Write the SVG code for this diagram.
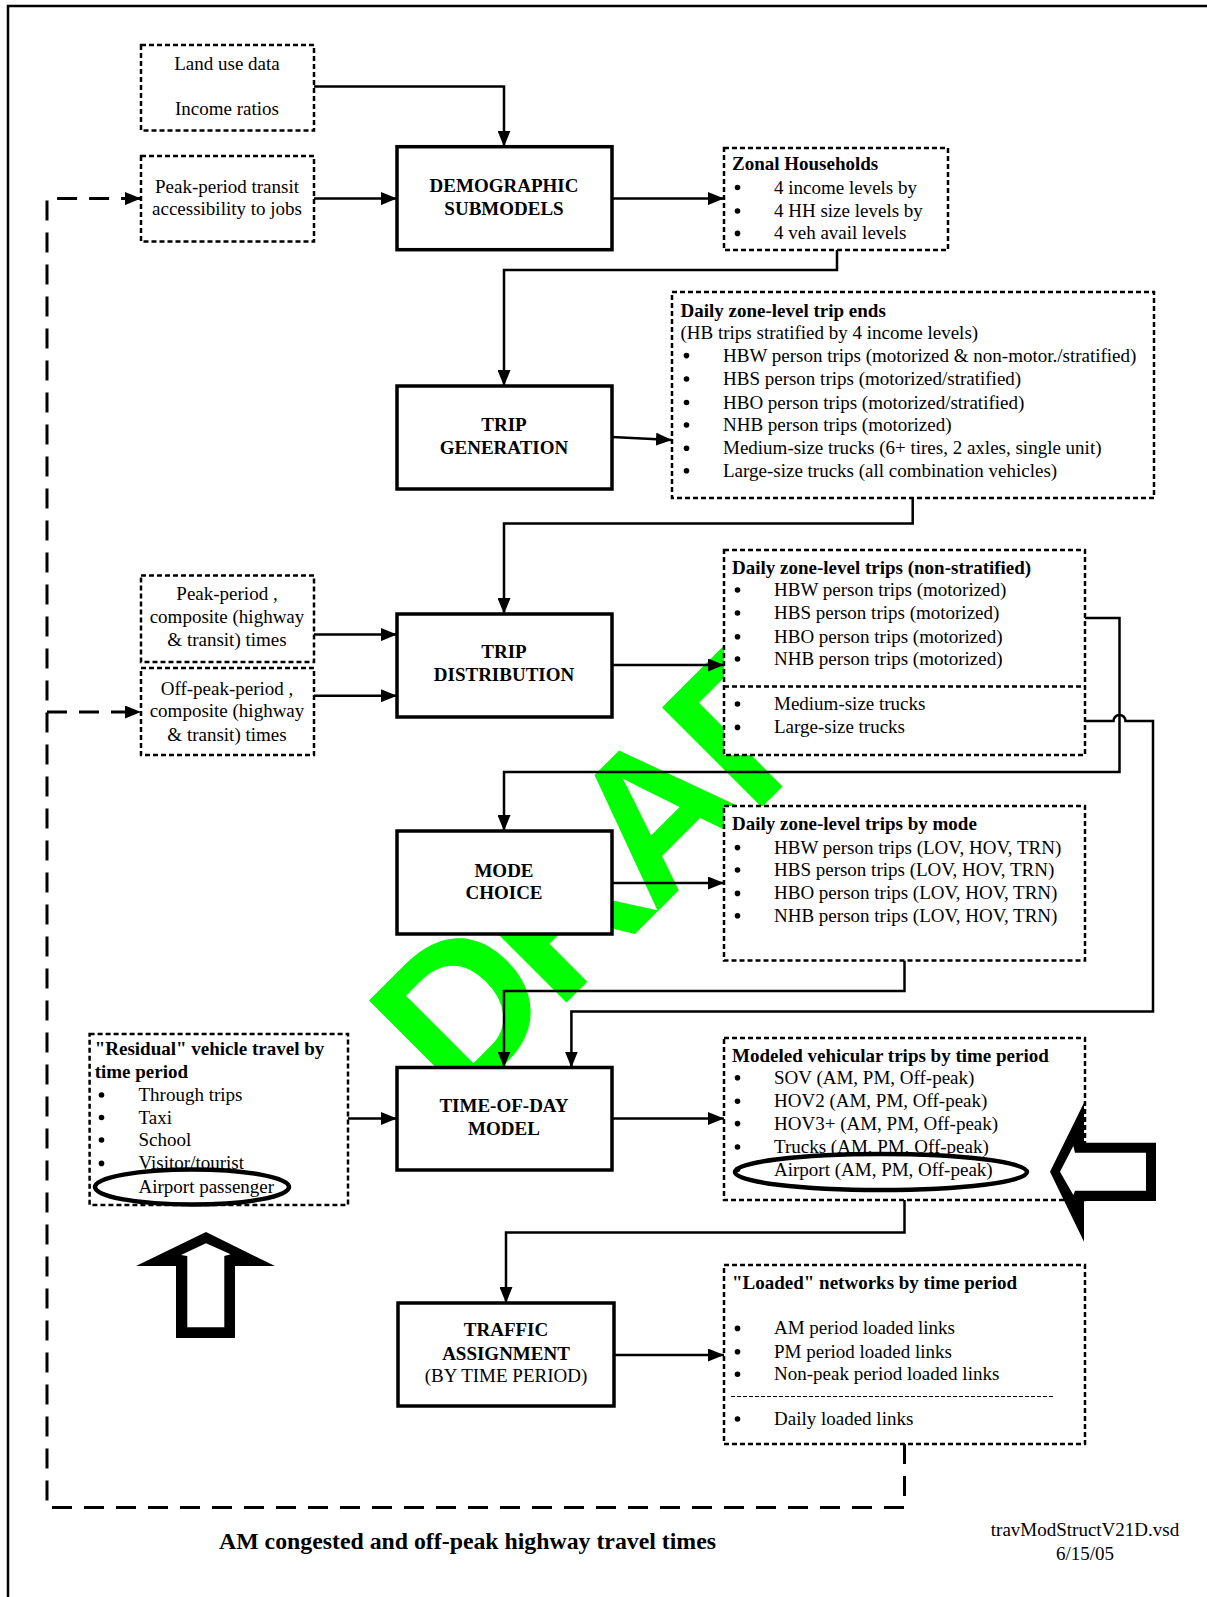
<svg xmlns="http://www.w3.org/2000/svg" width="1207" height="1597" viewBox="0 0 1207 1597">
<defs>
<style>
.proc{fill:#fff;stroke:#000;stroke-width:3.5}
.dot{fill:#fff;stroke:#000;stroke-width:2.5;stroke-dasharray:5 3}
.ln{fill:none;stroke:#000;stroke-width:2.5}
.fb{fill:none;stroke:#000;stroke-width:3;stroke-dasharray:20 12}
.t{font-family:"Liberation Serif","Times New Roman",serif;font-size:19px;fill:#000}
.bl{fill:#000}
.b{font-weight:bold}
.c{text-anchor:middle}
.ell{fill:none;stroke:#000;stroke-width:4.5}
.wm{font-family:"Liberation Sans",Arial,sans-serif;font-weight:bold;font-size:205px;letter-spacing:-10px;fill:#00ff00}
</style>
<marker id="ah" markerUnits="userSpaceOnUse" markerWidth="17" markerHeight="13" refX="16" refY="6.5" orient="auto">
<path d="M0,0 L16,6.5 L0,13 z" fill="#000"/>
</marker>
</defs>
<rect width="1207" height="1597" fill="#fff"/>
<path d="M8,1597 V6 H1207" fill="none" stroke="#000" stroke-width="2.5"/>

<g id="watermark">
<text class="wm" text-anchor="middle" transform="translate(687,882) rotate(-45)">DRAFT</text>
</g>

<g id="connectors">
<path class="ln" d="M314,86.6 H504 V146.7" marker-end="url(#ah)"/>
<path class="ln" d="M314,198.6 H397" marker-end="url(#ah)"/>
<path class="ln" d="M612,198.6 H724" marker-end="url(#ah)"/>
<path class="ln" d="M837,250 V270 H504 V386" marker-end="url(#ah)"/>
<path class="ln" d="M612,437 L672,440" marker-end="url(#ah)"/>
<path class="ln" d="M912.7,498 V523.6 H504 V614" marker-end="url(#ah)"/>
<path class="ln" d="M314,634.6 H397" marker-end="url(#ah)"/>
<path class="ln" d="M314,695.7 H397" marker-end="url(#ah)"/>
<path class="ln" d="M612,665 H724" marker-end="url(#ah)"/>
<path class="ln" d="M1085,618 H1119.5 V772 H504 V831" marker-end="url(#ah)"/>
<path class="ln" d="M1085,721 H1113.5 A6,6 0 0 1 1125.5,721 H1153 V1011.5 H571.4 V1067.5" marker-end="url(#ah)"/>
<path class="ln" d="M612,883 H724" marker-end="url(#ah)"/>
<path class="ln" d="M904.5,960.5 V991 H504 V1067.5" marker-end="url(#ah)"/>
<path class="ln" d="M348,1118.5 H397" marker-end="url(#ah)"/>
<path class="ln" d="M612,1118.5 H724" marker-end="url(#ah)"/>
<path class="ln" d="M904.5,1200 V1232.5 H506 V1303" marker-end="url(#ah)"/>
<path class="ln" d="M614,1355 H724" marker-end="url(#ah)"/>
<path class="fb" d="M904.5,1444 V1507.5 H47 V198.6 H141" marker-end="url(#ah)"/>
<path class="fb" d="M47,712 H141" marker-end="url(#ah)"/>
</g>

<g id="landuse">
<rect class="dot" x="141" y="45" width="173" height="85.5"/>
<text class="t c" x="227" y="70">Land use data</text>
<text class="t c" x="227" y="115">Income ratios</text>
</g>

<g id="peaktransit">
<rect class="dot" x="141" y="156" width="173" height="85.5"/>
<text class="t c" x="227" y="192.5">Peak-period transit</text>
<text class="t c" x="227" y="215">accessibility to jobs</text>
</g>

<g id="demographic">
<rect class="proc" x="397" y="146.7" width="215" height="103"/>
<text class="t b c" x="504" y="191.5">DEMOGRAPHIC</text>
<text class="t b c" x="504" y="215">SUBMODELS</text>
</g>

<g id="zonal">
<rect class="dot" x="724" y="148" width="224" height="102"/>
<text class="t b" x="732" y="170">Zonal Households</text>
<circle class="bl" cx="737.5" cy="187.5" r="2.8"/><text class="t" x="774" y="193.5">4 income levels by</text>
<circle class="bl" cx="737.5" cy="211" r="2.8"/><text class="t" x="774" y="217">4 HH size levels by</text>
<circle class="bl" cx="737.5" cy="233.4" r="2.8"/><text class="t" x="774" y="239.4">4 veh avail levels</text>
</g>

<g id="tripgen">
<rect class="proc" x="397" y="386" width="215" height="103"/>
<text class="t b c" x="504" y="431">TRIP</text>
<text class="t b c" x="504" y="454.3">GENERATION</text>
</g>

<g id="tripends">
<rect class="dot" x="672" y="292" width="482" height="206"/>
<text class="t b" x="680.5" y="317">Daily zone-level trip ends</text>
<text class="t" x="680.5" y="339">(HB trips stratified by 4 income levels)</text>
<circle class="bl" cx="686.5" cy="355.6" r="2.8"/><text class="t" x="723" y="361.6">HBW person trips (motorized &amp; non-motor./stratified)</text>
<circle class="bl" cx="686.5" cy="379" r="2.8"/><text class="t" x="723" y="385">HBS person trips (motorized/stratified)</text>
<circle class="bl" cx="686.5" cy="402.5" r="2.8"/><text class="t" x="723" y="408.5">HBO person trips (motorized/stratified)</text>
<circle class="bl" cx="686.5" cy="425" r="2.8"/><text class="t" x="723" y="431">NHB person trips (motorized)</text>
<circle class="bl" cx="686.5" cy="448.3" r="2.8"/><text class="t" x="723" y="454.3">Medium-size trucks (6+ tires, 2 axles, single unit)</text>
<circle class="bl" cx="686.5" cy="470.7" r="2.8"/><text class="t" x="723" y="476.7">Large-size trucks (all combination vehicles)</text>
</g>

<g id="peakcomp">
<rect class="dot" x="141" y="575.5" width="173" height="86.5"/>
<text class="t c" x="227" y="600">Peak-period ,</text>
<text class="t c" x="227" y="623.4">composite (highway</text>
<text class="t c" x="227" y="645.8">&amp; transit) times</text>
</g>

<g id="offpeak">
<rect class="dot" x="141" y="668" width="173" height="87"/>
<text class="t c" x="227" y="694.7">Off-peak-period ,</text>
<text class="t c" x="227" y="717">composite (highway</text>
<text class="t c" x="227" y="740.5">&amp; transit) times</text>
</g>

<g id="tripdist">
<rect class="proc" x="397" y="614" width="215" height="103"/>
<text class="t b c" x="504" y="658">TRIP</text>
<text class="t b c" x="504" y="681.4">DISTRIBUTION</text>
</g>

<g id="dailytrips">
<rect class="dot" x="724" y="550" width="361" height="205"/>
<line class="dot" x1="724" y1="686.5" x2="1085" y2="686.5"/>
<text class="t b" x="732" y="573.5">Daily zone-level trips (non-stratified)</text>
<circle class="bl" cx="737.5" cy="590" r="2.8"/><text class="t" x="774" y="596">HBW person trips (motorized)</text>
<circle class="bl" cx="737.5" cy="613" r="2.8"/><text class="t" x="774" y="619">HBS person trips (motorized)</text>
<circle class="bl" cx="737.5" cy="636.7" r="2.8"/><text class="t" x="774" y="642.7">HBO person trips (motorized)</text>
<circle class="bl" cx="737.5" cy="659" r="2.8"/><text class="t" x="774" y="665">NHB person trips (motorized)</text>
<circle class="bl" cx="737.5" cy="704" r="2.8"/><text class="t" x="774" y="710">Medium-size trucks</text>
<circle class="bl" cx="737.5" cy="727.4" r="2.8"/><text class="t" x="774" y="733.4">Large-size trucks</text>
</g>

<g id="modechoice">
<rect class="proc" x="397" y="831" width="215" height="103"/>
<text class="t b c" x="504" y="877">MODE</text>
<text class="t b c" x="504" y="899.4">CHOICE</text>
</g>

<g id="bymode">
<rect class="dot" x="724" y="806" width="361" height="154.5"/>
<text class="t b" x="732" y="830">Daily zone-level trips by mode</text>
<circle class="bl" cx="737.5" cy="847.6" r="2.8"/><text class="t" x="774" y="853.6">HBW person trips (LOV, HOV, TRN)</text>
<circle class="bl" cx="737.5" cy="870" r="2.8"/><text class="t" x="774" y="876">HBS person trips (LOV, HOV, TRN)</text>
<circle class="bl" cx="737.5" cy="893.4" r="2.8"/><text class="t" x="774" y="899.4">HBO person trips (LOV, HOV, TRN)</text>
<circle class="bl" cx="737.5" cy="915.8" r="2.8"/><text class="t" x="774" y="921.8">NHB person trips (LOV, HOV, TRN)</text>
</g>

<g id="residual">
<rect class="dot" x="89.6" y="1034" width="258.4" height="171"/>
<text class="t b" x="94.7" y="1055.3">"Residual" vehicle travel by</text>
<text class="t b" x="94.7" y="1077.7">time period</text>
<circle class="bl" cx="101.5" cy="1095" r="2.8"/><text class="t" x="138.5" y="1101">Through trips</text>
<circle class="bl" cx="101.5" cy="1117.5" r="2.8"/><text class="t" x="138.5" y="1123.5">Taxi</text>
<circle class="bl" cx="101.5" cy="1140" r="2.8"/><text class="t" x="138.5" y="1146">School</text>
<circle class="bl" cx="101.5" cy="1163.4" r="2.8"/><text class="t" x="138.5" y="1169.4">Visitor/tourist</text>
<text class="t" x="138.5" y="1192.8">Airport passenger</text>
<ellipse class="ell" cx="192" cy="1187" rx="97" ry="17.5"/>
</g>

<g id="timeofday">
<rect class="proc" x="397" y="1067.5" width="215" height="102.5"/>
<text class="t b c" x="504" y="1112.3">TIME-OF-DAY</text>
<text class="t b c" x="504" y="1134.7">MODEL</text>
</g>

<g id="modeled">
<rect class="dot" x="724" y="1038" width="361" height="162"/>
<text class="t b" x="732" y="1062.4">Modeled vehicular trips by time period</text>
<circle class="bl" cx="737.5" cy="1077.8" r="2.8"/><text class="t" x="774" y="1083.8">SOV (AM, PM, Off-peak)</text>
<circle class="bl" cx="737.5" cy="1101.2" r="2.8"/><text class="t" x="774" y="1107.2">HOV2 (AM, PM, Off-peak)</text>
<circle class="bl" cx="737.5" cy="1123.6" r="2.8"/><text class="t" x="774" y="1129.6">HOV3+ (AM, PM, Off-peak)</text>
<circle class="bl" cx="737.5" cy="1147" r="2.8"/><text class="t" x="774" y="1153">Trucks (AM, PM, Off-peak)</text>
<circle class="bl" cx="737.5" cy="1169.5" r="2.8"/><text class="t" x="774" y="1175.5">Airport (AM, PM, Off-peak)</text>
<ellipse class="ell" cx="881" cy="1172" rx="146" ry="18"/>
</g>

<g id="traffic">
<rect class="proc" x="398" y="1303" width="216" height="103"/>
<text class="t b c" x="506" y="1336.4">TRAFFIC</text>
<text class="t b c" x="506" y="1360">ASSIGNMENT</text>
<text class="t c" x="506" y="1382.2">(BY TIME PERIOD)</text>
</g>

<g id="loaded">
<rect class="dot" x="724" y="1265" width="361" height="179"/>
<line x1="731" y1="1396.5" x2="1054" y2="1396.5" stroke="#000" stroke-width="1" stroke-dasharray="4 2"/>
<text class="t b" x="732" y="1288.5">"Loaded" networks by time period</text>
<circle class="bl" cx="737.5" cy="1328.4" r="2.8"/><text class="t" x="774" y="1334.4">AM period loaded links</text>
<circle class="bl" cx="737.5" cy="1351.8" r="2.8"/><text class="t" x="774" y="1357.8">PM period loaded links</text>
<circle class="bl" cx="737.5" cy="1374.2" r="2.8"/><text class="t" x="774" y="1380.2">Non-peak period loaded links</text>
<circle class="bl" cx="737.5" cy="1419" r="2.8"/><text class="t" x="774" y="1425">Daily loaded links</text>
</g>

<g id="uparrow">
<polygon points="206,1232 275,1266 235,1266 235,1338 176,1338 176,1266 136,1266" fill="#000"/>
<polygon points="206,1243.3 230.7,1254.3 224.3,1256 224.3,1327.3 187.3,1327.3 187.3,1256 181,1255" fill="#fff"/>
</g>

<g id="leftarrow">
<polygon points="1050,1171.7 1084,1102.7 1084,1142.7 1156,1142.7 1156,1201 1084,1201 1084,1241.7" fill="#000"/>
<polygon points="1060,1171.7 1073.3,1146 1075,1152.7 1146,1152.7 1146,1190.7 1075,1190.7 1073.3,1195" fill="#fff"/>
</g>

<g id="labels">
<text class="t b c" x="467.5" y="1549" style="font-size:23.8px">AM congested and off-peak highway travel times</text>
<text class="t c" x="1085" y="1536">travModStructV21D.vsd</text>
<text class="t c" x="1085" y="1559.5">6/15/05</text>
</g>
</svg>
